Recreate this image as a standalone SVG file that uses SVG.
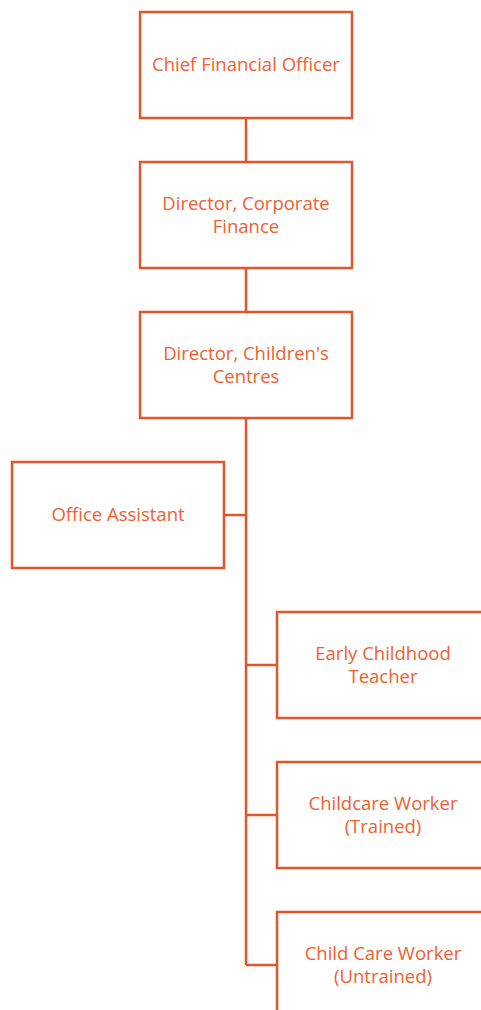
<svg xmlns="http://www.w3.org/2000/svg" width="481" height="1010" viewBox="0 0 481 1010">
<style>
.box{fill:#fff;stroke:#E2542B;stroke-width:2.5}
.lbl{font-family:"Open Sans","Liberation Sans",sans-serif;font-size:18.5px;fill:#F06030;text-anchor:middle}
.con{stroke:#E2542B;stroke-width:2.5;fill:none}
</style>
<rect width="481" height="1010" fill="#fff"/>
<g id="connectors">
<path class="con" d="M246 118V162M246 268V312M246 418V965M224 515H246M246 665H277M246 815H277M246 965H277"/>
</g>
<g id="cfo"><rect class="box" x="140" y="12" width="212" height="106"/><text class="lbl" x="246" y="71">Chief Financial Officer</text></g>
<g id="dir-corp"><rect class="box" x="140" y="162" width="212" height="106"/><text class="lbl" x="246" y="209.5">Director, Corporate</text><text class="lbl" x="246" y="232.5">Finance</text></g>
<g id="dir-child"><rect class="box" x="140" y="312" width="212" height="106"/><text class="lbl" x="246" y="359.5">Director, Children's</text><text class="lbl" x="246" y="382.5">Centres</text></g>
<g id="office"><rect class="box" x="12" y="462" width="212" height="106"/><text class="lbl" x="118" y="521">Office Assistant</text></g>
<g id="ect"><rect class="box" x="277" y="612" width="212" height="106"/><text class="lbl" x="383" y="659.5">Early Childhood</text><text class="lbl" x="383" y="682.5">Teacher</text></g>
<g id="ccw-t"><rect class="box" x="277" y="762" width="212" height="106"/><text class="lbl" x="383" y="809.5">Childcare Worker</text><text class="lbl" x="383" y="832.5">(Trained)</text></g>
<g id="ccw-u"><rect class="box" x="277" y="912" width="212" height="106"/><text class="lbl" x="383" y="959.5">Child Care Worker</text><text class="lbl" x="383" y="982.5">(Untrained)</text></g>
</svg>
